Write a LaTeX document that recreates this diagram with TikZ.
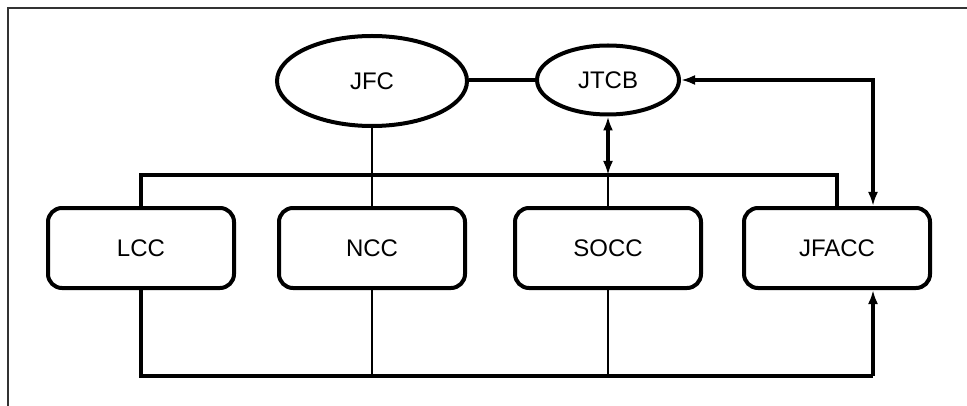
\documentclass[tikz,border=0pt]{standalone}
\usepackage{fontspec}
\setmainfont{Liberation Sans}
\usetikzlibrary{shapes.geometric,arrows.meta}
\begin{document}
\begin{tikzpicture}[x=0.5pt,y=-0.5pt,
  every node/.style={font=\fontsize{12}{14}\selectfont},
  oval/.style={ellipse,draw,line width=2pt,inner sep=0pt},
  cmdbox/.style={draw,rounded corners=7pt,line width=2pt,minimum width=93pt,minimum height=40pt,inner sep=0pt},
  heavy/.style={line width=2pt},
  medium/.style={line width=1.6pt},
  light/.style={line width=1.4pt},
  tip/.style={arrows={-Latex[length=7pt,width=5pt]}},
  both/.style={arrows={Latex[length=7pt,width=5pt]-Latex[length=7pt,width=5pt]}}]
\useasboundingbox (0,0) rectangle (967,406);
% outer frame
\draw[line width=1.3pt,black!80] (8,406) -- (8,8) -- (967,8);
% command nodes
\node[oval,minimum width=95pt,minimum height=45pt] (JFC) at (372,81) {JFC};
\node[oval,minimum width=71pt,minimum height=34.5pt] (JTCB) at (608,80) {JTCB};
\node[cmdbox] (LCC) at (141,248) {LCC};
\node[cmdbox] (NCC) at (372,248) {NCC};
\node[cmdbox] (SOCC) at (608,248) {SOCC};
\node[cmdbox] (JFACC) at (837,248) {JFACC};
% routing points
\coordinate (busR) at (837,175);
\coordinate (busS) at (608,175);
\coordinate (rtop) at (873,80);
\coordinate (botR) at (873,376);
% links
\draw[heavy] (JTCB.west) -- (JTCB.west -| JFC.east);
\draw[light] (JFC.south) -- (NCC.north);
\draw[heavy] (LCC.north) |- (busR) -- (JFACC.north -| busR);
\draw[medium,both] (JTCB.south) -- (busS);
\draw[light] (busS) -- (SOCC.north);
\draw[heavy,both] (JTCB.east) -- (rtop) -- (rtop |- JFACC.north);
\draw[heavy] (LCC.south) |- (botR);
\draw[light] (NCC.south) -- (NCC.south |- botR);
\draw[light] (SOCC.south) -- (SOCC.south |- botR);
\draw[medium,tip] (botR) -- (botR |- JFACC.south);
\end{tikzpicture}
\end{document}
